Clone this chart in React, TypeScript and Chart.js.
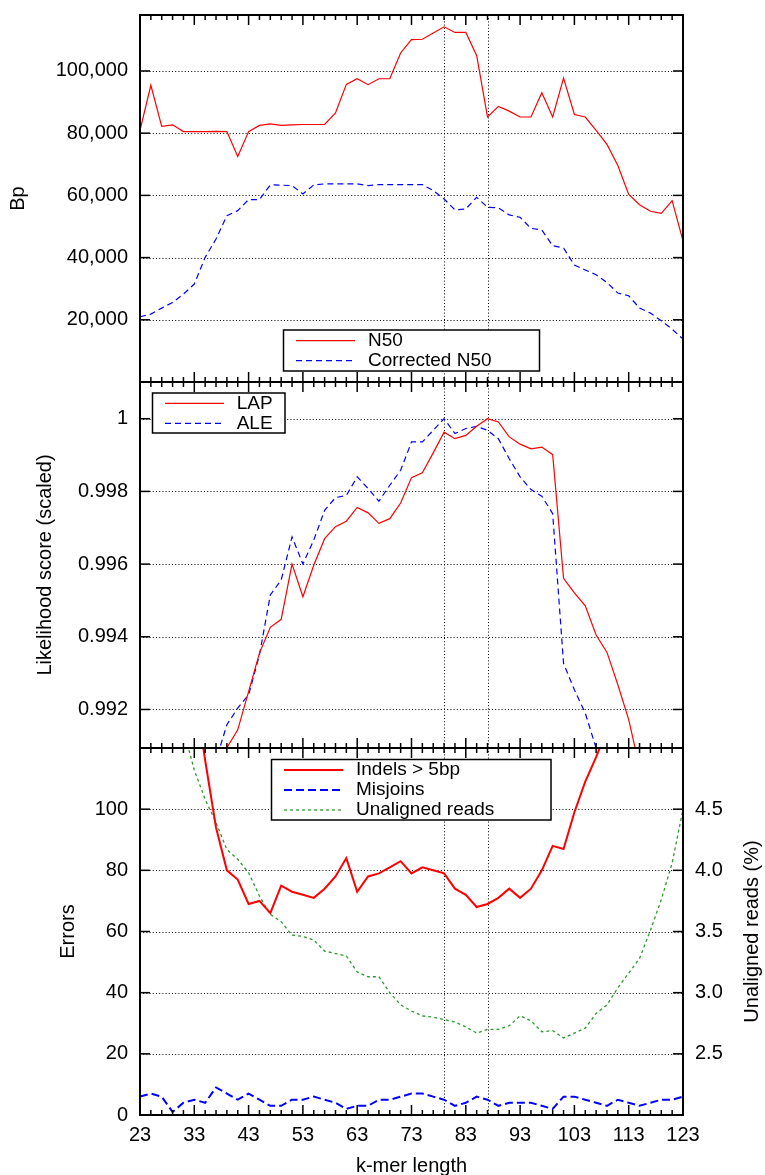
import React, { useEffect, useRef } from "react";
import { Chart, registerables } from "chart.js";

Chart.register(...registerables);

// ---------- data ----------
const kmerLength = [
  23, 25, 27, 29, 31, 33, 35, 37, 39, 41,
  43, 45, 47, 49, 51, 53, 55, 57, 59, 61,
  63, 65, 67, 69, 71, 73, 75, 77, 79, 81,
  83, 85, 87, 89, 91, 93, 95, 97, 99, 101,
  103, 105, 107, 109, 111, 113, 115, 117, 119, 121,
  123,
];

const n50 = [
  80900, 95400, 82200, 82700, 80500, 80500, 80500, 80600, 80500, 72500,
  80500, 82500, 83000, 82500, 82700, 82800, 82800, 82800, 86500, 95700,
  97500, 95600, 97500, 97500, 105800, 110100, 110200, 112200, 114200, 112400,
  112400, 105000, 85200, 88600, 87100, 85200, 85200, 93000, 85200, 97700,
  86000, 85200, 80900, 76400, 69600, 60300, 57000, 54900, 54200, 58300,
  45400,
];

const correctedN50 = [
  20970, 21830, 23760, 25580, 28270, 31490, 40070, 45980, 53490, 55100,
  58650, 58650, 63370, 63300, 63150, 60470, 63370, 63690, 63690, 63690,
  63690, 63150, 63480, 63480, 63480, 63480, 63480, 61550, 58860, 55320,
  55640, 59400, 56180, 56000, 53710, 52960, 49410, 48870, 43830, 43080,
  37600, 36000, 34490, 32020, 28590, 27730, 23760, 22150, 19680, 16990,
  13770,
];

const lap = [
  0.984, 0.985, 0.9858, 0.9866, 0.9874, 0.9882, 0.989, 0.9899, 0.99095, 0.99144,
  0.99249, 0.99355, 0.99426, 0.99448, 0.996, 0.9951, 0.99597, 0.9967, 0.99703, 0.99718,
  0.99756, 0.99741, 0.99712, 0.99725, 0.99768, 0.99838, 0.99851, 0.99906, 0.99963, 0.99945,
  0.99954, 0.99979, 1.0, 0.99991, 0.9995, 0.9993, 0.99917, 0.99922, 0.99901, 0.99561,
  0.99521, 0.99485, 0.99405, 0.99357, 0.99268, 0.99172, 0.9904, 0.989, 0.988, 0.987,
  0.986,
];

const ale = [
  0.9845, 0.9855, 0.9864, 0.9872, 0.988, 0.9888, 0.9896, 0.9906, 0.99158, 0.99204,
  0.9924, 0.9935, 0.99515, 0.99556, 0.99675, 0.996, 0.99666, 0.99748, 0.99783, 0.99789,
  0.9984, 0.99808, 0.99773, 0.99817, 0.99858, 0.99936, 0.99936, 0.99968, 1.0, 0.99959,
  0.99973, 0.99979, 0.99968, 0.99945, 0.9989, 0.9984, 0.99805, 0.99787, 0.99739, 0.99327,
  0.99254, 0.9919, 0.99094, 0.99, 0.989, 0.988, 0.987, 0.986, 0.985, 0.984,
  0.983,
];

const indels = [
  250, 220, 195, 175, 157, 140, 116, 94, 80, 77,
  69, 70, 66, 75, 73, 72, 71, 74, 78, 84,
  73, 78, 79, 81, 83, 79, 81, 80, 79, 74,
  72, 68, 69, 71, 74, 71, 74, 80, 88, 87,
  99, 109, 117, 126, 140, 155, 170, 185, 200, 215,
  230,
];

const misjoins = [
  6, 7, 6, 1, 4, 5, 4, 9, 7, 5,
  7, 5, 3, 3, 5, 5, 6, 5, 4, 2,
  3, 3, 5, 5, 6, 7, 7, 6, 5, 3,
  4, 6, 5, 3, 4, 4, 4, 3, 2, 6,
  6, 5, 4, 3, 5, 4, 3, 4, 5, 5,
  6,
];

const unalignedReads = [
  6.5, 6.1, 5.75, 5.45, 5.15, 4.82, 4.58, 4.39, 4.17, 4.09,
  3.98, 3.79, 3.64, 3.58, 3.47, 3.46, 3.43, 3.34, 3.32, 3.3,
  3.17, 3.13, 3.13, 3.0, 2.9, 2.85, 2.81, 2.8, 2.78, 2.76,
  2.72, 2.67, 2.7, 2.7, 2.73, 2.81, 2.77, 2.68, 2.69, 2.63,
  2.67, 2.71, 2.83, 2.9, 3.04, 3.16, 3.28, 3.51, 3.76, 4.06,
  4.5,
];

const xTickLabels = [23, 33, 43, 53, 63, 73, 83, 93, 103, 113, 123];
const markedKmers = [79, 87];
const bpTicks = [20000, 40000, 60000, 80000, 100000];
const likelihoodTicks = [0.992, 0.994, 0.996, 0.998, 1];
const errorTicks = [0, 20, 40, 60, 80, 100];
const unalignedTicks = [2.5, 3.0, 3.5, 4.0, 4.5];

// ---------- styling / layout ----------
const FONT = "'Liberation Sans', Arial, Helvetica, sans-serif";
const W = 765;
const AXIS_LEFT_W = 140;
const AXIS_RIGHT_W = 82;

const xMinorTicks = kmerLength.filter((k) => !xTickLabels.includes(k));

function pts(values: number[]) {
  return kmerLength.map((k, i) => ({ x: k, y: values[i] }));
}

function zeroPad(s: any) {
  s.paddingTop = 0;
  s.paddingBottom = 0;
  s.paddingLeft = 0;
  s.paddingRight = 0;
}

type LegendSpec = {
  box: number[];
  sample: number[];
  textX: number;
  rows: number[];
};

type PanelSpec = {
  offsetY: number;
  leftTicks: number[];
  rightTicks: number[];
  rightScale: string;
  legend: LegendSpec;
  rightTitle?: { text: string; x: number; y: number };
};

function makePanelPlugin(spec: PanelSpec) {
  return {
    id: "gnuplotPanel",
    beforeDatasetsDraw(chart: any) {
      const { ctx, chartArea: a } = chart;
      const xs = chart.scales.x;
      const ys = chart.scales.y;
      ctx.save();
      ctx.beginPath();
      ctx.rect(a.left, a.top, a.right - a.left, a.bottom - a.top);
      ctx.clip();
      ctx.strokeStyle = "#000";
      ctx.lineWidth = 1;
      ctx.setLineDash([1, 2.2]);
      for (const v of spec.leftTicks) {
        const py = Math.round(ys.getPixelForValue(v)) + 0.5;
        ctx.beginPath();
        ctx.moveTo(a.left, py);
        ctx.lineTo(a.right, py);
        ctx.stroke();
      }
      for (const k of markedKmers) {
        const px = Math.round(xs.getPixelForValue(k)) + 0.5;
        ctx.beginPath();
        ctx.moveTo(px, a.top);
        ctx.lineTo(px, a.bottom);
        ctx.stroke();
      }
      ctx.restore();
    },
    afterDatasetsDraw(chart: any) {
      const { ctx, chartArea: a } = chart;
      const xs = chart.scales.x;
      const ys = chart.scales.y;
      const rs = chart.scales[spec.rightScale] || ys;
      const seg = (x1: number, y1: number, x2: number, y2: number) => {
        ctx.beginPath();
        ctx.moveTo(x1, y1);
        ctx.lineTo(x2, y2);
        ctx.stroke();
      };
      ctx.save();
      ctx.setLineDash([]);
      ctx.strokeStyle = "#000";
      ctx.lineWidth = 1.5;
      for (const k of xTickLabels) {
        const px = xs.getPixelForValue(k);
        seg(px, a.top, px, a.top + 10);
        seg(px, a.bottom, px, a.bottom - 10);
      }
      for (const k of xMinorTicks) {
        const px = xs.getPixelForValue(k);
        seg(px, a.top, px, a.top + 5);
        seg(px, a.bottom, px, a.bottom - 5);
      }
      for (const v of spec.leftTicks) {
        const py = ys.getPixelForValue(v);
        seg(a.left, py, a.left + 10, py);
      }
      for (const v of spec.rightTicks) {
        const py = rs.getPixelForValue(v);
        seg(a.right, py, a.right - 10, py);
      }
      ctx.lineWidth = 2;
      ctx.strokeRect(a.left, a.top, a.right - a.left, a.bottom - a.top);

      // legend
      const L = spec.legend;
      const oy = spec.offsetY;
      ctx.fillStyle = "#fff";
      ctx.fillRect(L.box[0], L.box[1] - oy, L.box[2] - L.box[0], L.box[3] - L.box[1]);
      ctx.lineWidth = 1.5;
      ctx.strokeStyle = "#000";
      ctx.strokeRect(L.box[0], L.box[1] - oy, L.box[2] - L.box[0], L.box[3] - L.box[1]);
      chart.data.datasets.forEach((ds: any, i: number) => {
        const y = L.rows[i] - oy;
        ctx.strokeStyle = ds.borderColor;
        ctx.lineWidth = ds.borderWidth;
        ctx.setLineDash(ds.borderDash || []);
        seg(L.sample[0], y, L.sample[1], y);
        ctx.setLineDash([]);
        ctx.fillStyle = "#000";
        ctx.font = `19px ${FONT}`;
        ctx.textAlign = "left";
        ctx.textBaseline = "middle";
        ctx.fillText(ds.label, L.textX, y);
      });

      if (spec.rightTitle) {
        const t = spec.rightTitle;
        ctx.save();
        ctx.translate(t.x, t.y - oy);
        ctx.rotate(-Math.PI / 2);
        ctx.fillStyle = "#000";
        ctx.font = `20px ${FONT}`;
        ctx.textAlign = "center";
        ctx.textBaseline = "middle";
        ctx.fillText(t.text, 0, 0);
        ctx.restore();
      }
      ctx.restore();
    },
  };
}

function hiddenX() {
  return {
    type: "linear",
    min: 23,
    max: 123,
    grid: { display: false, drawTicks: false },
    border: { display: false },
    ticks: { display: false },
    afterFit: (s: any) => {
      s.height = 0;
      zeroPad(s);
    },
  };
}

function leftY(min: number, max: number, ticks: number[], title: string, titlePad: number, fmt: (v: number) => string) {
  return {
    type: "linear",
    position: "left",
    min,
    max,
    grid: { display: false, drawTicks: false },
    border: { display: false },
    afterBuildTicks: (s: any) => {
      s.ticks = ticks.map((v) => ({ value: v }));
    },
    ticks: {
      padding: 12,
      color: "#000",
      font: { size: 20, family: FONT },
      callback: (v: any) => fmt(Number(v)),
    },
    title: {
      display: true,
      text: title,
      color: "#000",
      font: { size: 20, family: FONT },
      padding: { top: titlePad, bottom: 0 },
    },
    afterFit: (s: any) => {
      s.width = AXIS_LEFT_W;
      zeroPad(s);
    },
  };
}

const baseOptions = (padding: any) => ({
  animation: false,
  responsive: false,
  maintainAspectRatio: false,
  events: [],
  layout: { padding, autoPadding: false },
  plugins: { legend: { display: false }, tooltip: { enabled: false } },
  elements: { point: { radius: 0 }, line: { tension: 0 } },
});

export default function App() {
  const r1 = useRef<HTMLCanvasElement>(null);
  const r2 = useRef<HTMLCanvasElement>(null);
  const r3 = useRef<HTMLCanvasElement>(null);

  useEffect(() => {
    const charts: Chart[] = [];

    charts.push(
      new Chart(r1.current as HTMLCanvasElement, {
        type: "line",
        data: {
          datasets: [
            { label: "N50", data: pts(n50), borderColor: "#ff0000", borderWidth: 1.2, pointRadius: 0, fill: false },
            { label: "Corrected N50", data: pts(correctedN50), borderColor: "#0000ff", borderWidth: 1.2, borderDash: [6, 4], pointRadius: 0, fill: false },
          ],
        },
        options: {
          ...baseOptions({ top: 15, bottom: 8, left: 0, right: AXIS_RIGHT_W }),
          scales: {
            x: hiddenX(),
            y: leftY(0, 118000, bpTicks, "Bp", 6, (v) => v.toLocaleString("en-US")),
          },
        } as any,
        plugins: [
          makePanelPlugin({
            offsetY: 0,
            leftTicks: bpTicks,
            rightTicks: bpTicks,
            rightScale: "y",
            legend: { box: [283.5, 330, 539.5, 371], sample: [296, 355], textX: 368, rows: [340.7, 360.7] },
          }),
        ],
      } as any)
    );

    charts.push(
      new Chart(r2.current as HTMLCanvasElement, {
        type: "line",
        data: {
          datasets: [
            { label: "LAP", data: pts(lap), borderColor: "#ff0000", borderWidth: 1.2, pointRadius: 0, fill: false },
            { label: "ALE", data: pts(ale), borderColor: "#0000ff", borderWidth: 1.2, borderDash: [6, 4], pointRadius: 0, fill: false },
          ],
        },
        options: {
          ...baseOptions({ top: 8, bottom: 8, left: 0, right: AXIS_RIGHT_W }),
          scales: {
            x: hiddenX(),
            y: leftY(0.99094, 1.00101, likelihoodTicks, "Likelihood score (scaled)", 33, (v) => String(parseFloat(v.toFixed(3)))),
          },
        } as any,
        plugins: [
          makePanelPlugin({
            offsetY: 374,
            leftTicks: likelihoodTicks,
            rightTicks: likelihoodTicks,
            rightScale: "y",
            legend: { box: [152.5, 393, 285, 433], sample: [165, 224], textX: 236.7, rows: [403.3, 423.3] },
          }),
        ],
      } as any)
    );

    charts.push(
      new Chart(r3.current as HTMLCanvasElement, {
        type: "line",
        data: {
          datasets: [
            { label: "Indels > 5bp", data: pts(indels), borderColor: "#ff0000", borderWidth: 2, pointRadius: 0, fill: false, yAxisID: "y" },
            { label: "Misjoins", data: pts(misjoins), borderColor: "#0000ff", borderWidth: 2, borderDash: [8, 4], pointRadius: 0, fill: false, yAxisID: "y" },
            { label: "Unaligned reads", data: pts(unalignedReads), borderColor: "#2e9a2e", borderWidth: 1.3, borderDash: [3, 3], pointRadius: 0, fill: false, yAxisID: "y2" },
          ],
        },
        options: {
          ...baseOptions({ top: 8, bottom: 0, left: 0, right: 0 }),
          scales: {
            x: {
              type: "linear",
              position: "bottom",
              min: 23,
              max: 123,
              grid: { display: false, drawTicks: false },
              border: { display: false },
              afterBuildTicks: (s: any) => {
                s.ticks = xTickLabels.map((v) => ({ value: v }));
              },
              ticks: {
                padding: 8,
                color: "#000",
                maxRotation: 0,
                autoSkip: false,
                font: { size: 20, family: FONT },
                callback: (v: any) => String(v),
              },
              title: {
                display: true,
                text: "k-mer length",
                color: "#000",
                font: { size: 20, family: FONT },
                padding: { top: 0, bottom: -3 },
              },
              afterFit: (s: any) => {
                s.height = 60;
                zeroPad(s);
              },
            },
            y: leftY(0, 120, errorTicks, "Errors", 56, (v) => String(v)),
            y2: {
              type: "linear",
              position: "right",
              min: 2,
              max: 5,
              grid: { display: false, drawTicks: false },
              border: { display: false },
              afterBuildTicks: (s: any) => {
                s.ticks = unalignedTicks.map((v) => ({ value: v }));
              },
              ticks: {
                padding: 12,
                color: "#000",
                font: { size: 20, family: FONT },
                callback: (v: any) => Number(v).toFixed(1),
              },
              afterFit: (s: any) => {
                s.width = AXIS_RIGHT_W;
                zeroPad(s);
              },
            },
          },
        } as any,
        plugins: [
          makePanelPlugin({
            offsetY: 740,
            leftTicks: errorTicks.filter((v) => v > 0),
            rightTicks: unalignedTicks,
            rightScale: "y2",
            legend: { box: [271.5, 759.5, 551, 820], sample: [284, 343.3], textX: 356, rows: [770, 790, 810] },
            rightTitle: { text: "Unaligned reads (%)", x: 752, y: 931.5 },
          }),
        ],
      } as any)
    );

    return () => {
      charts.forEach((c) => c.destroy());
    };
  }, []);

  return (
    <div style={{ position: "absolute", left: 0, top: 0, width: W, height: 1175, background: "#fff", overflow: "hidden" }}>
      <canvas ref={r1} width={W} height={390} style={{ position: "absolute", left: 0, top: 0 }} />
      <canvas ref={r2} width={W} height={382} style={{ position: "absolute", left: 0, top: 374 }} />
      <canvas ref={r3} width={W} height={435} style={{ position: "absolute", left: 0, top: 740 }} />
    </div>
  );
}
